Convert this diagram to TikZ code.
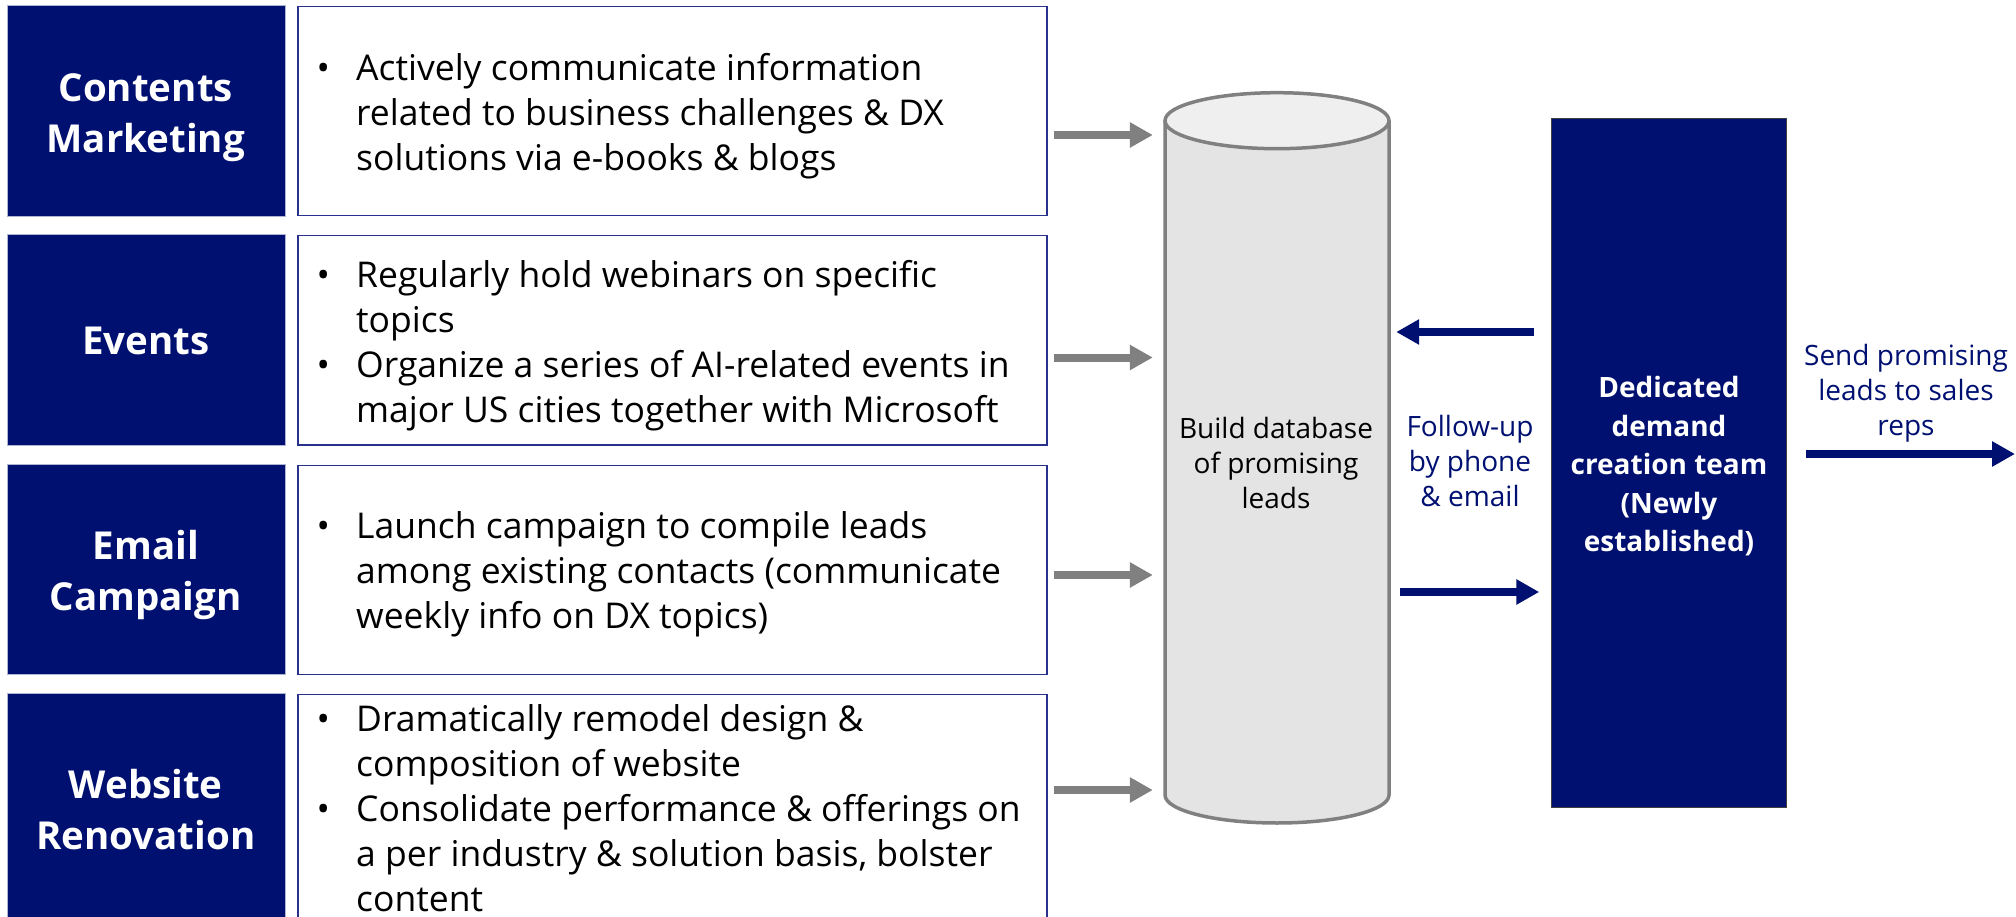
\documentclass[tikz,border=0pt]{standalone}
\usepackage{fontspec}
\setmainfont{Open Sans}
\usetikzlibrary{arrows.meta,calc}

\definecolor{navy}{RGB}{0,16,113}
\definecolor{boxedge}{RGB}{40,50,140}
\definecolor{darkedge}{RGB}{175,180,210}
\definecolor{arrowgray}{RGB}{128,128,128}
\definecolor{cylside}{RGB}{228,228,228}
\definecolor{cyltop}{RGB}{239,239,239}
\definecolor{cylline}{RGB}{128,128,128}

% bullet marker and hanging indent for the detail lists
\newcommand\itemdot{\makebox[40pt][l]{\makebox[14pt]{•}}}
\newcommand\itemgap{\hspace*{40pt}}
% equal struts on first and last line: a node's centre then sits
% midway between its first and last baselines
\newcommand\topfix{\rule{0pt}{34pt}}
\newcommand\botfix{\rule[-34pt]{0pt}{34pt}}

\begin{document}
\begin{tikzpicture}[x=1pt,y=-1pt,
  channel/.style={fill=navy, draw=darkedge, line width=1pt,
    minimum width=278.5pt, anchor=north west, inner sep=0pt},
  channeltext/.style={text=white, align=center, inner sep=0pt,
    font=\fontsize{38.5}{51}\selectfont\bfseries},
  detail/.style={draw=boxedge, line width=1.5pt, fill=white,
    minimum width=749pt, minimum height=209pt, anchor=north west, inner sep=0pt},
  bullets/.style={anchor=west, align=left,
    font=\fontsize{35.5}{45}\selectfont, inner sep=0pt},
  grayarrow/.style={draw=arrowgray, line width=8pt,
    -{Triangle[length=23pt,width=24pt]}},
  navyarrow/.style={draw=navy, line width=8pt,
    -{Triangle[length=23pt,width=24pt]}},
  sidenote/.style={align=center, font=\fontsize{28}{35}\selectfont, inner sep=0pt},
]
\useasboundingbox (0,0) rectangle (2016,917);

% marketing channels
\node[channel, minimum height=210.5pt] (ch1) at (6.5,5.5) {};
\node[channel, minimum height=210.5pt] (ch2) at (6.5,234.5) {};
\node[channel, minimum height=210pt] (ch3) at (6.5,464) {};
\node[channel, minimum height=233pt] (ch4) at (6.5,693) {};
\node[channeltext] (ch1t) at (145.75,126.7) {\topfix Contents\\Marketing\botfix};
\node[channeltext] (ch2t) at (145.75,355) {\topfix Events\botfix};
\node[channeltext] (ch3t) at (145.75,585.3) {\topfix Email\\Campaign\botfix};
\node[channeltext] (ch4t) at (145.75,824) {\topfix Website\\Renovation\botfix};

% detail boxes
\node[detail] (bx1) at (297,6) {};
\node[detail] (bx2) at (297,235) {};
\node[detail] (bx3) at (297,464.5) {};
\node[detail, minimum height=240pt] (bx4) at (297,693.5) {};

\node[bullets] (tx1) at (316,126) {\topfix\itemdot Actively communicate information\\
  \itemgap related to business challenges \& DX\\
  \itemgap solutions via e-books \& blogs\botfix};
\node[bullets] (tx2) at (316,355) {\topfix\itemdot Regularly hold webinars on specific\\
  \itemgap topics\\
  \itemdot Organize a series of AI-related events in\\
  \itemgap major US cities together with Microsoft\botfix};
\node[bullets] (tx3) at (316,583.5) {\topfix\itemdot Launch campaign to compile leads\\
  \itemgap among existing contacts (communicate\\
  \itemgap weekly info on DX topics)\botfix};
\node[bullets] (tx4) at (316,821) {\topfix\itemdot Dramatically remodel design \&\\
  \itemgap composition of website\\
  \itemdot Consolidate performance \& offerings on\\
  \itemgap a per industry \& solution basis, bolster\\
  \itemgap content\botfix};

% lead database cylinder
\path[fill=cylside, draw=cylline, line width=3.5pt]
  (1165,120.7) -- (1165,795)
  .. controls (1165,810.5) and (1215.1,823) .. (1277,823)
  .. controls (1338.9,823) and (1389,810.5) .. (1389,795)
  -- (1389,120.7);
\draw[fill=cyltop, draw=cylline, line width=3.5pt] (1277,120.7) ellipse [x radius=112, y radius=28];
\node[minimum width=224pt, minimum height=674pt, inner sep=0pt] (cyl) at (1277,458) {};
\node[sidenote, text=black] (cyltext) at (1276,473.3) {\topfix Build database\\of promising\\leads\botfix};

% demand creation team
\node[fill=navy, draw=black!75, line width=1pt, minimum width=235.5pt,
  minimum height=688pt, inner sep=0pt] (team) at (1669,463) {};
\node[text=white, align=center, inner sep=0pt,
  font=\fontsize{28}{38.5}\selectfont\bfseries] (teamtext) at (1669,474.7)
  {\topfix Dedicated\\demand\\creation team\\(Newly\\established)\botfix};

% row heights of the feeding arrows
\coordinate (r1) at (0,135);
\coordinate (r2) at (0,357.5);
\coordinate (r3) at (0,575);
\coordinate (r4) at (0,790);
\draw[grayarrow] ($(bx1.east |- r1)+(6,0)$) -- ($(cyl.west |- r1)+(-12,0)$);
\draw[grayarrow] ($(bx2.east |- r2)+(6,0)$) -- ($(cyl.west |- r2)+(-12,0)$);
\draw[grayarrow] ($(bx3.east |- r3)+(6,0)$) -- ($(cyl.west |- r3)+(-12,0)$);
\draw[grayarrow] ($(bx4.east |- r4)+(6,0)$) -- ($(cyl.west |- r4)+(-12,0)$);

% follow-up loop between database and team
\coordinate (back) at (0,332);
\coordinate (fwd) at (0,592);
\draw[navyarrow] ($(team.west |- back)+(-16.5,0)$) -- ($(cyl.east |- back)+(7,0)$);
\draw[navyarrow] ($(cyl.east |- fwd)+(11,0)$) -- ($(team.west |- fwd)+(-11.5,0)$);
\node[sidenote, text=navy] (follow) at (1470,471.7) {\topfix Follow-up\\by phone\\\& email\botfix};

% hand-off to sales
\coordinate (out) at (2015,454);
\draw[navyarrow] ($(team.east |- out)+(18.5,0)$) -- (out);
\node[sidenote, text=navy] (send) at (1906,400) {\topfix Send promising\\leads to sales\\reps\botfix};
\end{tikzpicture}
\end{document}
